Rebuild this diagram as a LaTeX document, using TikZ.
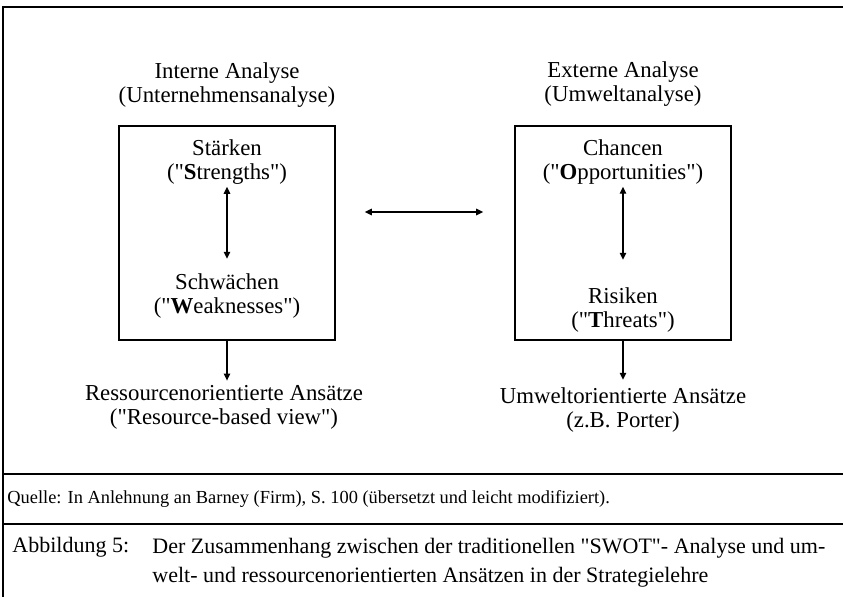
\documentclass[tikz,border=0pt]{standalone}
\usepackage{fontspec}
\setmainfont{Liberation Serif}
\usetikzlibrary{arrows.meta}

\newcommand{\zitat}[1]{\textquotedbl#1\textquotedbl}

\tikzset{
  txt/.style={align=center, font=\fontsize{11.4}{12}\selectfont, inner sep=1pt},
  capt/.style={font=\fontsize{11}{14.5}\selectfont, inner sep=0pt},
  swotbox/.style={draw, line width=0.8pt, minimum width=108pt, minimum height=107pt, inner sep=0pt},
  arr/.style={line width=0.7pt, -{Triangle[length=3.5pt,width=3.2pt]}},
  darr/.style={line width=0.7pt, {Triangle[length=3.5pt,width=3.2pt]}-{Triangle[length=3.5pt,width=3.2pt]}},
  rule/.style={line width=0.7pt},
}

\begin{document}
\begin{tikzpicture}[x=0.5pt, y=-0.5pt]

        \useasboundingbox (0,0) rectangle (843,597);

        % Rahmen
        \draw[rule] (843,7) -- (3,7) -- (3,597);
        \draw[rule] (3,474) -- (843,474);
        \draw[rule] (3,524) -- (843,524);

        % interne Analyse
        \node[txt] (intern) at (227,85) {Interne Analyse\\(Unternehmensanalyse)};
        \node[swotbox] (ibox) at (227,233) { };
        \node[txt] (staerken) at (227,162) {Stärken\\(\zitat{\textbf{S}trengths})};
        \node[txt] (schwaechen) at (227,296) {Schwächen\\(\zitat{\textbf{W}eaknesses})};
        \node[txt] (rbv) at (224,407) {Ressourcenorientierte Ansätze\\(\zitat{Resource-based view})};

        % externe Analyse
        \node[txt] (extern) at (623,84) {Externe Analyse\\(Umweltanalyse)};
        \node[swotbox] (ebox) at (623,233) { };
        \node[txt] (chancen) at (623,162) {Chancen\\(\zitat{\textbf{O}pportunities})};
        \node[txt] (risiken) at (623,310) {Risiken\\(\zitat{\textbf{T}hreats})};
        \node[txt] (porter) at (623,410) {Umweltorientierte Ansätze\\(z.B. Porter)};

        \draw[darr] (staerken.south) -- ([yshift=6.25pt]schwaechen.north);
        \draw[darr] (chancen.south) -- ([yshift=12.75pt]risiken.north);
        \draw[darr] ([xshift=14.5pt, yshift=10.5pt]ibox.east) -- ([xshift=-15.5pt, yshift=10.5pt]ebox.west);
        \draw[arr, shorten >=1pt] (ibox.south) -- (ibox.south |- rbv.north);
        \draw[arr, shorten >=2.75pt] (ebox) -- (porter);

        % Quelle und Abbildung
        \node[font=\fontsize{9.2}{10}\selectfont, anchor=base west, inner sep=0pt] (quelle) at (7,504) {Quelle: In Anlehnung an Barney (Firm), S. 100 (übersetzt und leicht modifiziert).};
        \node[capt, anchor=base west] (abb) at (12,553) {Abbildung 5:};
        \node[capt, anchor=north west, align=left] (abbtext) at (152,538) {Der Zusammenhang zwischen der traditionellen \zitat{SWOT}- Analyse und um-\\welt- und ressourcenorientierten Ansätzen in der Strategielehre};

\end{tikzpicture}
\end{document}
